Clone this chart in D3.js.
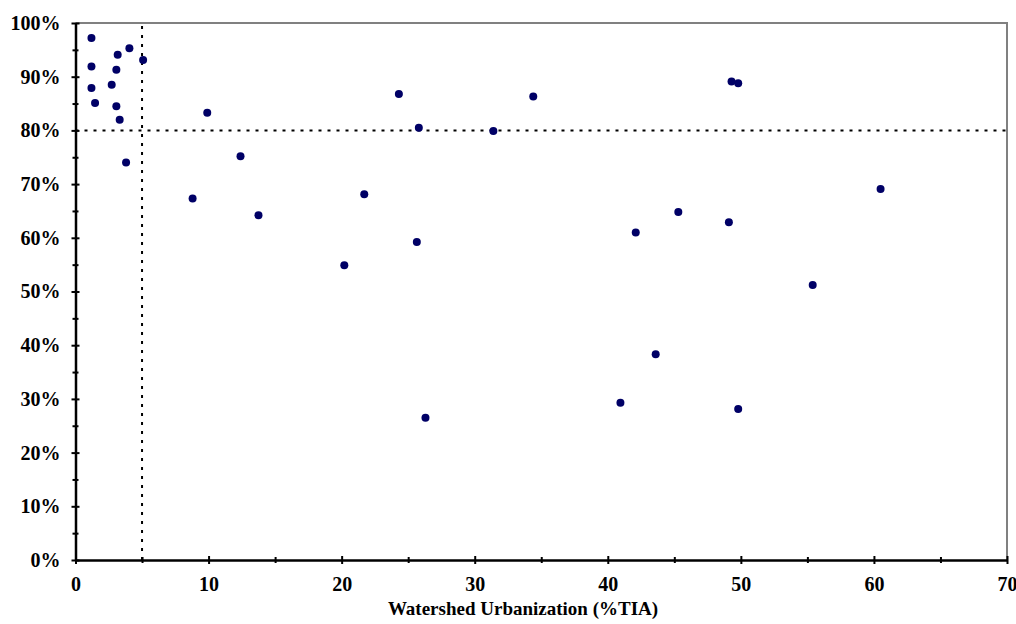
<!DOCTYPE html>
<html>
<head>
<meta charset="utf-8">
<script src="https://cdn.jsdelivr.net/npm/d3@7.9.0/dist/d3.min.js"></script>
<style>
  body { margin: 0; background: #fff; }
  svg text { font-family: "Liberation Serif", "Times New Roman", serif; font-weight: bold; }
</style>
</head>
<body>
<svg id="chart" width="1016" height="624"></svg>
<script>
// watershed urbanization (%TIA) vs score (%)
const tia = [1.2, 4.05, 3.17, 5.08, 1.2, 3.07, 2.72, 1.2, 1.47, 3.07, 3.32, 9.9, 3.8, 12.4, 8.8,
  24.3, 25.8, 31.4, 34.4, 49.3, 49.8,
  13.75, 21.7, 25.65, 20.2, 26.3,
  60.5, 45.3, 49.1, 42.1, 55.4, 43.6, 40.95, 49.8];
const pct = [97.2, 95.3, 94.1, 93.1, 91.9, 91.3, 88.5, 87.9, 85.1, 84.5, 82.0, 83.3, 74.0, 75.2, 67.3,
  86.8, 80.5, 79.9, 86.3, 89.1, 88.8,
  64.2, 68.1, 59.2, 54.9, 26.5,
  69.1, 64.8, 62.9, 61.0, 51.2, 38.3, 29.3, 28.1];
const xTicks = [0, 10, 20, 30, 40, 50, 60, 70];
const yTicks = [0, 10, 20, 30, 40, 50, 60, 70, 80, 90, 100];
const refX = 5, refY = 80;

const svg = d3.select('#chart');
const x = d3.scaleLinear().domain([0, 70]).range([75.5, 1007]);
const y = d3.scaleLinear().domain([0, 100]).range([560, 23]);

// gray frame (top and right)
svg.append('path')
  .attr('d', `M${x(0)},${y(100)}H${x(70)}V${y(0)}`)
  .attr('fill', 'none').attr('stroke', '#808080').attr('stroke-width', 2);

// reference lines
svg.append('line')
  .attr('x1', x(refX)).attr('x2', x(refX)).attr('y1', y(0)).attr('y2', y(100))
  .attr('stroke', '#000').attr('stroke-width', 2).attr('stroke-dasharray', '3,6');
svg.append('line')
  .attr('x1', x(0)).attr('x2', x(70)).attr('y1', y(refY)).attr('y2', y(refY))
  .attr('stroke', '#000').attr('stroke-width', 2).attr('stroke-dasharray', '3,6');

// minor ticks
svg.append('g')
  .attr('transform', `translate(0,${y(0)})`)
  .call(d3.axisBottom(x).tickValues(d3.range(5, 70, 10)).tickSize(0).tickFormat(''))
  .call(g => g.selectAll('.tick line').attr('y1', -3).attr('y2', 3).attr('stroke-width', 2))
  .call(g => g.select('.domain').remove());
svg.append('g')
  .attr('transform', `translate(${x(0)},0)`)
  .call(d3.axisLeft(y).tickValues(d3.range(5, 100, 10)).tickSize(0).tickFormat(''))
  .call(g => g.selectAll('.tick line').attr('x1', -3).attr('x2', 3).attr('stroke-width', 2))
  .call(g => g.select('.domain').remove());

// x axis
svg.append('g')
  .attr('transform', `translate(0,${y(0)})`)
  .call(d3.axisBottom(x).tickValues(xTicks).tickSizeOuter(0).tickPadding(11))
  .call(g => g.select('.domain').attr('stroke-width', 2.5))
  .call(g => g.selectAll('.tick line').attr('y1', -4).attr('y2', 4).attr('stroke-width', 2))
  .call(g => g.selectAll('.tick text').attr('font-size', 20).attr('fill', '#000'));

// y axis
svg.append('g')
  .attr('transform', `translate(${x(0)},0)`)
  .call(d3.axisLeft(y).tickValues(yTicks).tickSizeOuter(0).tickPadding(9).tickFormat(d => d + '%'))
  .call(g => g.select('.domain').attr('stroke-width', 2.5))
  .call(g => g.selectAll('.tick line').attr('x1', -4).attr('x2', 4).attr('stroke-width', 2))
  .call(g => g.selectAll('.tick text').attr('font-size', 20).attr('fill', '#000'));

// points
svg.append('g')
  .selectAll('circle')
  .data(tia.map((d, i) => [d, pct[i]]))
  .join('circle')
  .attr('cx', d => x(d[0]))
  .attr('cy', d => y(d[1]))
  .attr('r', 4)
  .attr('fill', '#000066');

// axis title
svg.append('text')
  .attr('x', 523).attr('y', 615)
  .attr('text-anchor', 'middle')
  .attr('font-size', 19)
  .text('Watershed Urbanization (%TIA)');
</script>
</body>
</html>
